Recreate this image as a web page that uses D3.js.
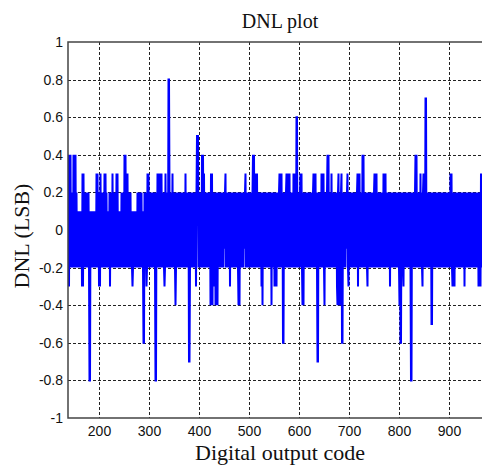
<!DOCTYPE html>
<html>
<head>
<meta charset="utf-8">
<script src="https://cdn.jsdelivr.net/npm/d3@7"></script>
<style>
  body { margin: 0; background: #fff; }
</style>
</head>
<body>
<script>
// DNL of each output code, in tenths of an LSB, starting at code 138
const firstCode = 138;
const dnlTenths = [
  -3,4,-3,4,-2,4,-2,2,-1,1,-2,4,-2,4,-1,4,-2,2,-2,1,
  -2,1,-2,1,-1,1,-2,1,-3,3,-3,3,-2,1,-2,2,-1,2,-2,2,
  -2,2,-2,-8,-8,1,-2,1,-1,1,-2,1,-2,1,-1,1,-2,3,-2,3,
  -2,2,-3,1,-3,3,-2,2,-1,1,-2,2,-1,3,-2,3,-1,2,-2,1,
  -2,1,-2,2,-3,1,-2,2,-2,3,-1,2,-2,1,-1,2,-2,3,-2,3,
  -2,1,-1,1,-2,1,-2,2,-1,2,-2,2,-2,4,-2,4,-1,2,-2,3,
  -2,2,-2,2,-1,2,-2,1,-2,-3,-2,1,-2,1,-1,1,-2,1,-2,2,
  -2,2,-2,2,-1,2,-2,2,-2,1,-2,-6,-6,2,-2,2,-1,-3,-2,3,
  -2,3,-2,2,-2,2,-1,2,-2,2,-2,1,-2,2,-2,-8,-8,2,-2,3,
  -2,3,-1,2,-2,3,-2,3,-2,2,-1,2,-2,-3,-2,3,-2,2,-2,2,
  -2,8,8,2,-2,2,-2,2,-1,3,-2,2,-2,2,-2,-4,-2,2,-1,2,
  -2,2,-2,2,-1,2,-2,1,-2,2,-2,2,-1,2,-2,3,-2,2,-2,2,
  -2,2,-7,-7,-2,2,-2,2,-1,2,-2,2,-2,1,-2,2,-3,2,5,5,
  5,-2,2,-2,2,-2,2,-2,4,-2,4,-1,3,-2,2,-2,2,-1,2,-2,
  2,-2,2,-2,2,-4,3,-3,3,-4,2,-2,2,-3,2,-4,2,-2,1,-4,
  2,-2,2,-2,1,-2,2,-1,2,-2,2,-2,2,-1,2,3,-2,2,-2,2,
  -2,2,-2,2,-3,2,-2,2,-1,2,-2,2,-2,1,-2,2,-2,2,-1,2,
  -2,-4,2,-4,2,-2,2,-2,1,-2,2,-2,2,-1,2,3,-2,2,-2,2,
  -2,2,-2,2,-1,2,-2,2,-2,2,4,-2,4,-2,2,3,-2,2,3,-2,
  2,-2,2,-2,1,-2,2,-3,2,-4,2,-2,2,-2,2,-1,2,-2,2,-2,
  2,-2,2,-2,2,-2,2,-4,2,-2,1,-2,2,-3,2,-2,2,-3,2,-2,
  2,-2,2,3,-2,2,-2,3,-2,2,-6,-6,2,-2,2,-2,2,3,-2,3,
  -2,2,-2,3,-2,2,-1,2,-2,2,-2,3,-2,2,-2,3,-2,6,6,-2,
  2,-2,2,-2,2,3,-2,3,-2,-4,2,-4,2,-2,2,-2,2,-2,1,-2,
  2,-2,2,-2,2,-1,2,-2,2,-2,2,3,-2,2,-2,3,-2,2,-2,-7,
  -7,2,-2,2,-2,2,-2,3,-2,2,-2,3,-2,-4,2,-2,2,-2,2,4,
  -2,4,-2,2,-2,2,-2,3,-2,2,-1,2,-2,2,-2,2,-2,2,-3,-4,
  2,3,-2,-4,2,-4,2,3,-6,-6,2,-2,2,-2,2,-2,2,-1,2,3,
  -2,-3,2,-2,2,-2,2,-1,2,-2,2,-2,1,-2,2,-2,2,-2,2,3,
  -3,2,-2,3,-2,2,-2,2,-2,4,-2,4,-2,2,-2,2,-1,2,-2,-3,
  2,-2,2,-2,2,-2,1,-2,2,-2,2,-2,2,3,-2,2,-2,3,-2,2,
  -2,2,-2,2,-1,2,-2,2,-2,2,-2,3,-2,2,-2,3,-2,2,-2,2,
  -2,2,-2,2,-3,2,-2,2,-2,1,-2,2,-2,2,-1,2,-2,2,-2,2,
  -2,2,-2,-4,2,-6,-6,2,-2,2,-2,-3,2,-2,2,-2,2,-2,2,-2,
  2,-2,2,-2,2,-2,-8,-8,2,-2,2,-2,2,-2,2,4,-2,4,-2,2,
  -2,2,-2,2,-2,3,-2,2,-2,-3,2,3,-2,2,-2,7,7,-2,2,-2,
  2,-2,2,-2,2,-2,2,-5,-5,2,-2,2,-2,2,-1,2,-2,2,-2,2,
  -2,2,-2,2,-2,2,-1,2,-2,2,-2,2,-2,1,-2,2,-2,2,-2,2,
  -2,2,-2,2,-2,3,-2,3,-2,-3,2,-3,2,-3,2,-2,2,-2,2,-2,
  2,-2,2,-2,2,-2,2,-1,2,-2,2,-2,2,-3,2,-2,2,-2,2,-2,
  2,-2,2,-2,1,-2,2,-2,2,-2,2,-2,2,-1,2,-2,2,-2,2,-2,
  2,-3,2,-2,2,-3,3,-2
];

const xTicks = [200, 300, 400, 500, 600, 700, 800, 900];
const yTicks = [-1, -0.8, -0.6, -0.4, -0.2, 0, 0.2, 0.4, 0.6, 0.8, 1];

const width = 482;
const height = 468;
const plotLeft = 68, plotTop = 42, plotBottom = 418, plotRight = 482;

const data = dnlTenths.map((v, i) => ({ code: firstCode + i, dnl: v / 10 }));

const svg = d3.select("body")
  .append("svg")
  .attr("width", width)
  .attr("height", height);

const xScale = d3.scaleLinear()
  .domain([138, 966])
  .range([plotLeft, plotRight]);

const yScale = d3.scaleLinear()
  .domain([-1, 1])
  .range([plotBottom, plotTop]);

// dotted grid
svg.append("g")
  .selectAll("line")
  .data(xTicks)
  .join("line")
  .attr("x1", d => xScale(d) + 0.5)
  .attr("x2", d => xScale(d) + 0.5)
  .attr("y1", plotTop)
  .attr("y2", plotBottom)
  .attr("stroke", "#222")
  .attr("stroke-width", 1)
  .attr("stroke-dasharray", "3,2");

svg.append("g")
  .selectAll("line")
  .data(yTicks.slice(1, -1))
  .join("line")
  .attr("x1", plotLeft)
  .attr("x2", plotRight)
  .attr("y1", d => Math.round(yScale(d)) + 0.5)
  .attr("y2", d => Math.round(yScale(d)) + 0.5)
  .attr("stroke", "#222")
  .attr("stroke-width", 1)
  .attr("stroke-dasharray", "3,2");

svg.append("clipPath")
  .attr("id", "plot-clip")
  .append("rect")
  .attr("x", plotLeft)
  .attr("y", plotTop)
  .attr("width", plotRight - plotLeft)
  .attr("height", plotBottom - plotTop);

const line = d3.line()
  .x(d => xScale(d.code))
  .y(d => yScale(d.dnl));

svg.append("path")
  .datum(data)
  .attr("clip-path", "url(#plot-clip)")
  .attr("fill", "none")
  .attr("stroke", "#0000ff")
  .attr("stroke-width", 2)
  .attr("stroke-linejoin", "miter")
  .attr("d", line);

// axes
const xAxis = d3.axisBottom(xScale).tickValues(xTicks).tickSize(0).tickPadding(8);
const yAxis = d3.axisLeft(yScale).tickValues(yTicks).tickSize(0).tickPadding(5)
  .tickFormat(d => String(+d.toFixed(1)));

const gx = svg.append("g")
  .attr("transform", "translate(0," + plotBottom + ")")
  .call(xAxis);

const gy = svg.append("g")
  .attr("transform", "translate(" + plotLeft + ",0)")
  .call(yAxis);

[gx, gy].forEach(g => {
  g.select(".domain").remove();
  g.selectAll("text")
    .attr("font-family", "Liberation Sans, Arial, sans-serif")
    .attr("font-size", 14)
    .attr("fill", "#111");
});

// frame (right side is cut off)
svg.append("path")
  .attr("d", `M${plotRight},${plotTop}H${plotLeft}V${plotBottom}H${plotRight}`)
  .attr("fill", "none")
  .attr("stroke", "#444")
  .attr("stroke-width", 1.5);

svg.append("text")
  .attr("x", 280)
  .attr("y", 28)
  .attr("text-anchor", "middle")
  .attr("font-family", "Liberation Serif, Times New Roman, serif")
  .attr("font-size", 20)
  .attr("fill", "#111")
  .text("DNL plot");

svg.append("text")
  .attr("x", 280)
  .attr("y", 460)
  .attr("text-anchor", "middle")
  .attr("font-family", "Liberation Serif, Times New Roman, serif")
  .attr("font-size", 22)
  .attr("fill", "#111")
  .text("Digital output code");

svg.append("text")
  .attr("transform", "translate(29,236) rotate(-90)")
  .attr("text-anchor", "middle")
  .attr("font-family", "Liberation Serif, Times New Roman, serif")
  .attr("font-size", 22)
  .attr("fill", "#111")
  .text("DNL (LSB)");
</script>
</body>
</html>
